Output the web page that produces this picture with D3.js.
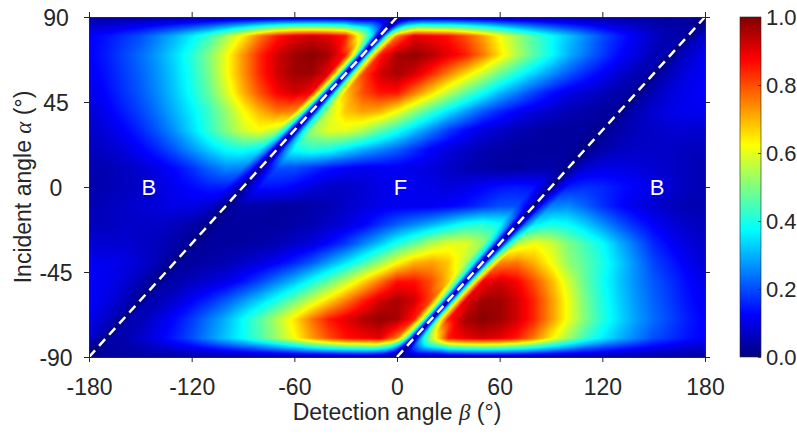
<!DOCTYPE html>
<html>
<head>
<meta charset="utf-8">
<script src="https://cdn.jsdelivr.net/npm/d3@7"></script>
<style>
body { margin: 0; background: #fff; }
text { font-family: "Liberation Sans", Arial, sans-serif; fill: #262626; }
.greek { font-family: "Liberation Serif", "DejaVu Serif", serif; font-style: italic; }
</style>
</head>
<body>
<svg id="chart" width="797" height="435"></svg>
<script>
// axis ticks
var betaTicks = [-180, -120, -60, 0, 60, 120, 180];
var alphaTicks = [-90, -45, 0, 45, 90];
var barTicks = [0, 0.2, 0.4, 0.6, 0.8, 1.0];

// grid of the map: detection angle beta (columns), incident angle alpha (rows)
var betaGrid = [-180, -170, -160, -150, -140, -130, -120, -110, -100, -90, -80, -70, -60, -50, -40, -30, -20, -10,
    0, 10, 20, 30, 40, 50, 60, 70, 80, 90, 100, 110, 120, 130, 140, 150, 160, 170, 180];
var alphaGrid = [90, 80, 70, 60, 50, 40, 30, 20, 10, 0, -10, -20, -30, -40, -50, -60, -70, -80, -90];

// normalised intensity, one array per incident angle
var row90 = [0.03,0.03,0.03,0.03,0.03,0.03,0.03,0.03,0.03,0.03,0.03,0.03,0.03,0.03,0.03,0.03,0.03,0.03,0,0.03,0.03,0.03,0.03,0.03,0.03,0.03,0.03,0.03,0.03,0.03,0.03,0.03,0.03,0.03,0.03,0.03,0];
var row80 = [0.12,0.14,0.17,0.2,0.25,0.3,0.36,0.43,0.53,0.64,0.76,0.85,0.9,0.92,0.9,0.85,0.55,0,0.75,0.9,0.88,0.86,0.8,0.72,0.62,0.53,0.45,0.38,0.32,0.26,0.2,0.15,0.11,0.07,0.04,0,0.08];
var row70 = [0.12,0.15,0.19,0.23,0.28,0.34,0.41,0.5,0.61,0.73,0.84,0.92,0.97,0.99,0.96,0.85,0,0.85,0.96,0.98,0.95,0.9,0.85,0.76,0.65,0.55,0.46,0.38,0.3,0.24,0.18,0.13,0.09,0.05,0,0.07,0.11];
var row60 = [0.11,0.14,0.18,0.22,0.27,0.33,0.4,0.49,0.61,0.73,0.84,0.92,0.97,0.97,0.9,0,0.8,0.92,0.96,0.92,0.84,0.75,0.66,0.57,0.48,0.4,0.33,0.27,0.21,0.16,0.12,0.08,0.05,0,0.06,0.1,0.12];
var row50 = [0.1,0.13,0.17,0.21,0.26,0.32,0.39,0.47,0.58,0.7,0.8,0.88,0.92,0.88,0,0.68,0.8,0.86,0.86,0.76,0.66,0.56,0.47,0.39,0.31,0.25,0.19,0.14,0.1,0.08,0.06,0.04,0,0.05,0.09,0.11,0.12];
var row40 = [0.08,0.11,0.15,0.19,0.24,0.3,0.36,0.43,0.52,0.62,0.7,0.76,0.74,0,0.55,0.68,0.72,0.7,0.62,0.52,0.43,0.35,0.28,0.21,0.16,0.12,0.09,0.07,0.05,0.04,0.03,0,0.05,0.08,0.1,0.11,0.11];
var row30 = [0.07,0.09,0.12,0.16,0.21,0.27,0.34,0.42,0.5,0.58,0.62,0.55,0,0.52,0.6,0.6,0.55,0.47,0.4,0.32,0.25,0.18,0.13,0.09,0.07,0.05,0.04,0.03,0.03,0.03,0,0.04,0.06,0.07,0.08,0.08,0.08];
var row20 = [0.06,0.07,0.09,0.12,0.16,0.21,0.27,0.33,0.38,0.4,0.36,0,0.38,0.42,0.4,0.35,0.3,0.26,0.22,0.17,0.12,0.09,0.07,0.05,0.04,0.03,0.03,0.03,0.03,0,0.04,0.06,0.07,0.07,0.07,0.06,0.06];
var row10 = [0.05,0.05,0.06,0.08,0.1,0.13,0.17,0.22,0.26,0.25,0,0.2,0.2,0.17,0.14,0.12,0.11,0.11,0.11,0.1,0.09,0.07,0.05,0.04,0.03,0.03,0.04,0.04,0,0.08,0.1,0.1,0.09,0.08,0.07,0.06,0.05];
var row0 = [0.04,0.05,0.06,0.07,0.09,0.11,0.13,0.15,0.15,0,0.14,0.14,0.12,0.09,0.07,0.07,0.08,0.1,0.11,0.11,0.1,0.09,0.1,0.12,0.14,0.15,0.14,0,0.15,0.17,0.16,0.14,0.12,0.1,0.08,0.06,0.05];
var rowM10 = [0.05,0.06,0.07,0.08,0.09,0.1,0.1,0.08,0,0.04,0.04,0.03,0.03,0.04,0.05,0.07,0.09,0.1,0.11,0.11,0.11,0.12,0.14,0.17,0.2,0.2,0,0.25,0.26,0.22,0.17,0.13,0.1,0.08,0.06,0.05,0.05];
var rowM20 = [0.06,0.06,0.07,0.07,0.07,0.06,0.04,0,0.03,0.03,0.03,0.03,0.04,0.05,0.07,0.09,0.12,0.17,0.22,0.26,0.3,0.35,0.4,0.42,0.38,0,0.36,0.4,0.38,0.33,0.27,0.21,0.16,0.12,0.09,0.07,0.06];
var rowM30 = [0.08,0.08,0.08,0.07,0.06,0.04,0,0.03,0.03,0.03,0.04,0.05,0.07,0.09,0.13,0.18,0.25,0.32,0.4,0.47,0.55,0.6,0.6,0.52,0,0.55,0.62,0.58,0.5,0.44,0.38,0.3,0.23,0.16,0.12,0.09,0.07];
var rowM40 = [0.11,0.11,0.1,0.08,0.05,0,0.03,0.04,0.05,0.07,0.09,0.12,0.16,0.21,0.28,0.35,0.43,0.52,0.62,0.7,0.72,0.68,0.55,0,0.74,0.76,0.7,0.62,0.52,0.46,0.4,0.33,0.26,0.19,0.15,0.11,0.08];
var rowM50 = [0.12,0.11,0.09,0.05,0,0.04,0.06,0.08,0.1,0.14,0.19,0.25,0.31,0.39,0.47,0.56,0.66,0.76,0.86,0.86,0.8,0.68,0,0.88,0.92,0.88,0.8,0.7,0.58,0.47,0.39,0.32,0.26,0.21,0.17,0.13,0.1];
var rowM60 = [0.12,0.1,0.06,0,0.05,0.08,0.12,0.16,0.21,0.27,0.33,0.4,0.48,0.57,0.66,0.75,0.84,0.92,0.96,0.92,0.8,0,0.9,0.97,0.97,0.92,0.84,0.73,0.61,0.49,0.4,0.33,0.27,0.22,0.18,0.14,0.11];
var rowM70 = [0.11,0.07,0,0.05,0.09,0.13,0.18,0.24,0.3,0.38,0.46,0.55,0.65,0.76,0.85,0.9,0.95,0.98,0.96,0.85,0,0.85,0.96,0.99,0.97,0.92,0.84,0.73,0.61,0.5,0.41,0.34,0.28,0.23,0.19,0.15,0.12];
var rowM80 = [0.08,0,0.04,0.07,0.11,0.15,0.2,0.26,0.32,0.38,0.45,0.53,0.62,0.72,0.8,0.86,0.88,0.9,0.75,0,0.55,0.85,0.9,0.92,0.9,0.85,0.76,0.64,0.53,0.43,0.36,0.3,0.25,0.2,0.17,0.14,0.12];
var rowM90 = [0,0.03,0.03,0.03,0.03,0.03,0.03,0.03,0.03,0.03,0.03,0.03,0.03,0.03,0.03,0.03,0.03,0.03,0,0.03,0.03,0.03,0.03,0.03,0.03,0.03,0.03,0.03,0.03,0.03,0.03,0.03,0.03,0.03,0.03,0.03,0.03];

var rows = [row90, row80, row70, row60, row50, row40, row30, row20, row10, row0,
    rowM10, rowM20, rowM30, rowM40, rowM50, rowM60, rowM70, rowM80, rowM90];

// extra samples 5 deg either side of the zero lines, one per alpha row
// (null = outside the plot)
var nearOffset = 5;
var upperLineLeft  = [0.02,0.36,0.58,0.6,0.58,0.5,0.36,0.24,0.16,0.1,0.05,0.03,0.03,0.03,0.03,0.04,0.05,0.05,null];
var upperLineRight = [0.02,0.5,0.58,0.54,0.46,0.38,0.34,0.25,0.13,0.09,0.03,0.02,0.02,0.03,0.04,0.05,0.06,0.05,0.02];
var lowerLineLeft  = [0.02,0.05,0.06,0.05,0.04,0.03,0.02,0.02,0.03,0.09,0.13,0.25,0.34,0.38,0.46,0.54,0.58,0.5,0.02];
var lowerLineRight = [null,0.05,0.05,0.04,0.03,0.03,0.03,0.03,0.05,0.1,0.16,0.24,0.36,0.5,0.58,0.6,0.58,0.36,0.02];

// zero lines (beta = alpha -/+ 90) and region labels
var diagonals = [
    {b0: -180, a0: -90, b1: 0, a1: 90, left: upperLineLeft, right: upperLineRight},
    {b0: 0, a0: -90, b1: 180, a1: 90, left: lowerLineLeft, right: lowerLineRight}
];
var regions = [
    {name: 'B', beta: -145, alpha: 0},
    {name: 'F', beta: 2, alpha: 0},
    {name: 'B', beta: 152, alpha: 0}
];

rows.forEach(function(r, i) {
    if (r.length !== betaGrid.length) console.error('row ' + alphaGrid[i] + ' has ' + r.length);
});

var margin = {left: 89, top: 17};
var w = 616, h = 340;

var x = d3.scaleLinear().domain([-180, 180]).range([0, w]);
var y = d3.scaleLinear().domain([-90, 90]).range([h, 0]);

// jet colormap
var jet = d3.scaleLinear()
    .domain([0, 0.125, 0.375, 0.625, 0.875, 1])
    .range(['#000080', '#0000ff', '#00ffff', '#ffff00', '#ff0000', '#800000'])
    .clamp(true);

var svg = d3.select('#chart');
var plot = svg.append('g').attr('transform', 'translate(' + margin.left + ',' + margin.top + ')');

// ---- heat map, shaded pixel by pixel from the grid ----
var nr = alphaGrid.length;
var aStep = alphaGrid[0] - alphaGrid[1];

function lineBeta(d, alpha) {
    return d.b0 + (alpha - d.a0) * (d.b1 - d.b0) / (d.a1 - d.a0);
}

// sample positions of each row: the regular grid plus the near-line samples
var knots = rows.map(function(row, r) {
    var pts = betaGrid.map(function(b, k) { return {b: b, v: row[k]}; });
    diagonals.forEach(function(d) {
        var bl = lineBeta(d, alphaGrid[r]);
        if (d.left[r] !== null) pts.push({b: bl - nearOffset, v: d.left[r]});
        if (d.right[r] !== null) pts.push({b: bl + nearOffset, v: d.right[r]});
    });
    pts.sort(function(a, b) { return a.b - b.b; });
    return {b: pts.map(function(p) { return p.b; }), v: pts.map(function(p) { return p.v; })};
});

// value along one row at any beta
function alongRow(r, beta) {
    var kb = knots[r].b, kv = knots[r].v, n = kb.length;
    if (beta <= kb[0]) return kv[0];
    if (beta >= kb[n - 1]) return kv[n - 1];
    var j = d3.bisectRight(kb, beta);
    var f = (beta - kb[j - 1]) / (kb[j] - kb[j - 1]);
    return kv[j - 1] * (1 - f) + kv[j] * f;
}

function rowPos(alpha) {
    var s = Math.max(0, Math.min(nr - 1, (alphaGrid[0] - alpha) / aStep));
    var r = Math.min(nr - 2, Math.floor(s));
    return {r: r, f: s - r};
}

// plain bilinear shading
function shadePlain(beta, alpha) {
    var p = rowPos(alpha);
    return alongRow(p.r, beta) * (1 - p.f) + alongRow(p.r + 1, beta) * p.f;
}

// shading along the diagonal direction, keeps the zero lines sharp
function shadeSheared(beta, alpha) {
    var p = rowPos(alpha);
    var v0 = alongRow(p.r, beta + (alphaGrid[p.r] - alpha));
    var v1 = alongRow(p.r + 1, beta + (alphaGrid[p.r + 1] - alpha));
    return v0 * (1 - p.f) + v1 * p.f;
}

var canvas = document.createElement('canvas');
canvas.width = w;
canvas.height = h;
var ctx = canvas.getContext('2d');
var img = ctx.createImageData(w, h);
for (var py = 0; py < h; py++) {
    var alpha = y.invert(py + 0.5);
    for (var px = 0; px < w; px++) {
        var beta = x.invert(px + 0.5);
        // horizontal distance (deg) to the nearest zero line
        var dist = d3.min(diagonals, function(d) { return Math.abs(beta - lineBeta(d, alpha)); });
        var wt = Math.max(0, Math.min(1, (22 - dist) / 10));
        var v = wt > 0 ? wt * shadeSheared(beta, alpha) : 0;
        if (wt < 1) v += (1 - wt) * shadePlain(beta, alpha);
        var col = d3.rgb(jet(v));
        var i = (py * w + px) * 4;
        img.data[i] = col.r;
        img.data[i + 1] = col.g;
        img.data[i + 2] = col.b;
        img.data[i + 3] = 255;
    }
}
ctx.putImageData(img, 0, 0);

plot.append('image')
    .attr('width', w)
    .attr('height', h)
    .attr('href', canvas.toDataURL());

plot.append('clipPath').attr('id', 'clip')
    .append('rect').attr('width', w).attr('height', h);

plot.append('g')
    .attr('clip-path', 'url(#clip)')
    .selectAll('line')
    .data(diagonals)
    .join('line')
    .attr('x1', function(d) { return x(d.b0); })
    .attr('y1', function(d) { return y(d.a0); })
    .attr('x2', function(d) { return x(d.b1); })
    .attr('y2', function(d) { return y(d.a1); })
    .attr('stroke', '#fff')
    .attr('stroke-width', 2.5)
    .attr('stroke-dasharray', '9,6');

plot.selectAll('text.region')
    .data(regions)
    .join('text')
    .attr('class', 'region')
    .attr('x', function(d) { return x(d.beta); })
    .attr('y', function(d) { return y(d.alpha); })
    .attr('dy', '0.36em')
    .attr('text-anchor', 'middle')
    .style('fill', '#fff')
    .style('font-size', '22px')
    .text(function(d) { return d.name; });

// axes
function plain(d) { return String(d); }

function styleAxis(g) {
    g.selectAll('path.domain').attr('stroke', '#262626').attr('stroke-width', 1).attr('fill', 'none');
    g.selectAll('.tick line').attr('stroke', '#262626').attr('stroke-width', 1);
    g.selectAll('text').style('font-size', '23px').attr('fill', '#262626');
}

plot.append('g')
    .attr('transform', 'translate(0,' + h + ')')
    .call(d3.axisBottom(x).tickValues(betaTicks).tickSize(5).tickSizeOuter(0).tickFormat(plain))
    .call(styleAxis)
    .selectAll('text').attr('y', 38).attr('dy', 0);

plot.append('g')
    .call(d3.axisTop(x).tickValues(betaTicks).tickSize(5).tickSizeOuter(0).tickFormat(''))
    .call(styleAxis);

plot.append('g')
    .call(d3.axisLeft(y).tickValues(alphaTicks).tickSize(5).tickSizeOuter(0).tickFormat(plain))
    .call(styleAxis)
    .selectAll('text').attr('x', -33).attr('dy', '0.36em').attr('text-anchor', 'middle');

plot.append('g')
    .attr('transform', 'translate(' + w + ',0)')
    .call(d3.axisRight(y).tickValues(alphaTicks).tickSize(5).tickSizeOuter(0).tickFormat(''))
    .call(styleAxis);

// axis titles
var xt = svg.append('text')
    .attr('x', margin.left + w / 2)
    .attr('y', 420)
    .attr('text-anchor', 'middle')
    .style('font-size', '23px');
xt.append('tspan').text('Detection angle ');
xt.append('tspan').attr('class', 'greek').text('β');
xt.append('tspan').text(' (°)');

var yt = svg.append('text')
    .attr('transform', 'translate(31,' + (margin.top + h / 2) + ') rotate(-90)')
    .attr('text-anchor', 'middle')
    .style('font-size', '23px');
yt.append('tspan').text('Incident angle ');
yt.append('tspan').attr('class', 'greek').text('α');
yt.append('tspan').text(' (°)');

// colour bar
var cbLeft = 740, cbW = 21;
var cy = d3.scaleLinear().domain([0, 1]).range([margin.top + h, margin.top]);

var grad = svg.append('defs').append('linearGradient')
    .attr('id', 'jetgrad')
    .attr('x1', 0).attr('y1', 1).attr('x2', 0).attr('y2', 0);
grad.selectAll('stop')
    .data(jet.domain())
    .join('stop')
    .attr('offset', function(d) { return d; })
    .attr('stop-color', function(d) { return jet(d); });

svg.append('rect')
    .attr('x', cbLeft)
    .attr('y', cy(1))
    .attr('width', cbW)
    .attr('height', cy(0) - cy(1))
    .attr('fill', 'url(#jetgrad)')
    .attr('stroke', '#262626')
    .attr('stroke-width', 0.6);

var cb = svg.append('g')
    .attr('transform', 'translate(' + (cbLeft + cbW) + ',0)')
    .call(d3.axisRight(cy).tickValues(barTicks).tickSize(-3).tickSizeOuter(0).tickFormat(d3.format('.1f')));
cb.select('.domain').remove();
cb.selectAll('.tick line').attr('stroke', '#262626').attr('stroke-width', 0.8);
cb.selectAll('text').attr('x', 5).attr('dy', '0.36em').style('font-size', '22px').attr('fill', '#262626');
</script>
</body>
</html>
